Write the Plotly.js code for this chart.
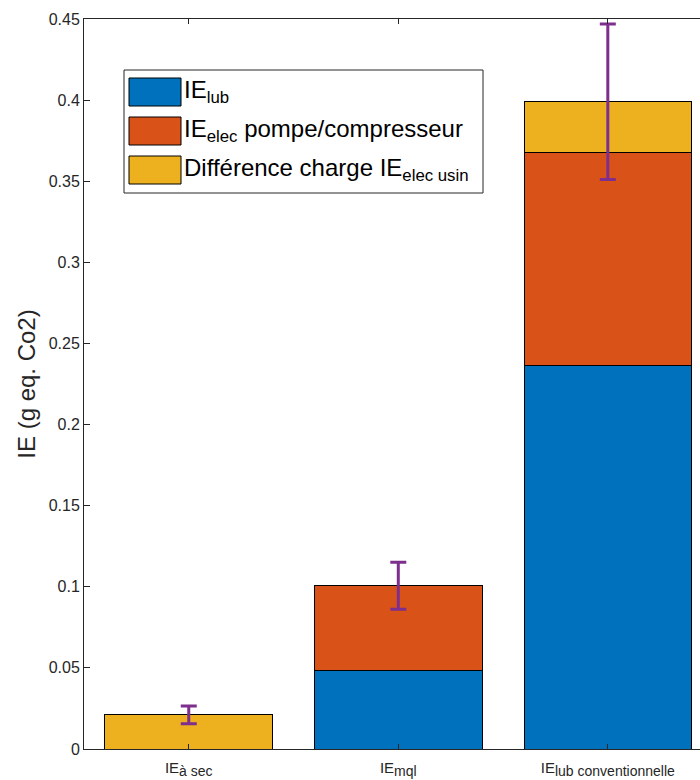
<!DOCTYPE html>
<html>
<head>
<meta charset="utf-8">
<script src="https://cdn.plot.ly/plotly-3.0.1.min.js"></script>
<style>html,body{margin:0;padding:0;background:#fff;}#chart{width:700px;height:780px;}</style>
</head>
<body>
<div id="chart"></div>
<script>
// ---- data ----
const categories = ['IE<sub><span style="font-size:14px">à sec</span></sub>',
                    'IE<sub><span style="font-size:14px">mql</span></sub>',
                    'IE<sub><span style="font-size:14px">lub conventionnelle</span></sub>'];
const xPos = [1, 2, 3];
const ieLub = [0, 0.0482, 0.2367];
const ieElec = [0, 0.0524, 0.1312];
const ieDiff = [0.021, 0, 0.031];
const errCenter = [0.021, 0.1006, 0.399];
const errHalf = [0.0055, 0.0145, 0.0479];
const seriesNames = ['IE<sub>lub</sub>', 'IE<sub>elec</sub> pompe/compresseur', 'Différence charge IE<sub>elec usin</sub>'];
const seriesColors = ['#0072BD', '#D95319', '#EDB120'];

const FONT = 'Liberation Sans, Arial, Helvetica, sans-serif';
const AX = '#262626';

const seriesValues = [ieLub, ieElec, ieDiff];
const traces = seriesValues.map((vals, i) => ({
  type: 'bar',
  x: xPos,
  y: vals,
  name: seriesNames[i],
  marker: {color: seriesColors[i], line: {color: '#000', width: 1}},
  showlegend: false,
  hoverinfo: 'skip'
}));
traces.push({
  type: 'scatter',
  mode: 'markers',
  x: xPos,
  y: errCenter,
  marker: {size: 1, color: 'rgba(0,0,0,0)'},
  error_y: {type: 'data', array: errHalf, visible: true, color: '#7E2F8E', thickness: 3, width: 8},
  showlegend: false,
  hoverinfo: 'skip'
});

// ---- custom legend (MATLAB style, large swatches) ----
const L = 84, T = 19, W = 616, H = 730;
const px = v => (v - L) / W;
const py = v => (T + H - v) / H;
const shapes = [{
  type: 'rect', xref: 'paper', yref: 'paper',
  x0: px(124), x1: px(483), y0: py(193), y1: py(70),
  fillcolor: '#fff', line: {color: AX, width: 1}, layer: 'above'
}];
const annotations = [];
const rowCenters = [92, 131, 170];
rowCenters.forEach((c, i) => {
  shapes.push({
    type: 'rect', xref: 'paper', yref: 'paper',
    x0: px(129), x1: px(181), y0: py(c + 14), y1: py(c - 14),
    fillcolor: seriesColors[i], line: {color: '#000', width: 1}, layer: 'above'
  });
  annotations.push({
    xref: 'paper', yref: 'paper', x: px(182), y: py(c - 1),
    xanchor: 'left', yanchor: 'middle', showarrow: false,
    text: seriesNames[i], font: {family: FONT, size: 24, color: '#000'}
  });
});

const layout = {
  width: 700, height: 780,
  margin: {l: L, r: 0, t: T, b: 780 - T - H, pad: 0},
  paper_bgcolor: '#fff', plot_bgcolor: '#fff',
  barmode: 'stack', bargap: 0.2,
  font: {family: FONT, color: AX},
  xaxis: {
    range: [0.5, 3.44], tickvals: xPos, ticktext: categories,
    ticks: 'inside', ticklen: 5, tickcolor: AX, tickwidth: 1,
    showline: true, linecolor: AX, linewidth: 1, mirror: 'ticks',
    showgrid: false, zeroline: false, ticklabelstandoff: 5,
    tickfont: {family: FONT, size: 15, color: AX}
  },
  yaxis: {
    range: [0, 0.45], tick0: 0, dtick: 0.05,
    ticks: 'inside', ticklen: 6, tickcolor: AX, tickwidth: 1,
    showline: true, linecolor: AX, linewidth: 1,
    showgrid: false, zeroline: false,
    tickfont: {family: FONT, size: 16, color: AX},
    title: {text: 'IE (g eq. Co2)', font: {family: FONT, size: 24, color: AX}, standoff: 6}
  },
  shapes: shapes,
  annotations: annotations,
  showlegend: false
};

Plotly.newPlot('chart', traces, layout, {displayModeBar: false, staticPlot: true});
</script>
</body>
</html>
